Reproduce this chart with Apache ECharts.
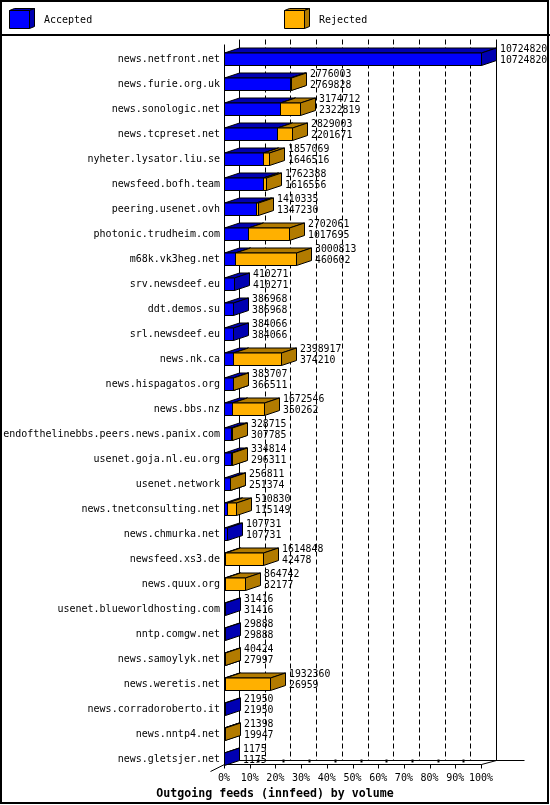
<!DOCTYPE html>
<html>
<head>
<meta charset="utf-8">
<script src="https://cdn.jsdelivr.net/npm/echarts@6/dist/echarts.min.js"></script>
<style>
html,body{margin:0;padding:0;background:#fff;}
#chart{width:550px;height:805px;}
</style>
</head>
<body>
<div id="chart"></div>
<script>
const categories = [
  'news.netfront.net','news.furie.org.uk','news.sonologic.net','news.tcpreset.net',
  'nyheter.lysator.liu.se','newsfeed.bofh.team','peering.usenet.ovh','photonic.trudheim.com',
  'm68k.vk3heg.net','srv.newsdeef.eu','ddt.demos.su','srl.newsdeef.eu','news.nk.ca',
  'news.hispagatos.org','news.bbs.nz','endofthelinebbs.peers.news.panix.com',
  'usenet.goja.nl.eu.org','usenet.network','news.tnetconsulting.net','news.chmurka.net',
  'newsfeed.xs3.de','news.quux.org','usenet.blueworldhosting.com','nntp.comgw.net',
  'news.samoylyk.net','news.weretis.net','news.corradoroberto.it','news.nntp4.net',
  'news.gletsjer.net'
];
// upper number of each row (end of the orange part)
const totals = [
  10724820, 2776003, 3174712, 2829003, 1857069, 1762388, 1410335, 2702061,
  3000813, 410271, 386968, 384066, 2398917, 383707, 1672546, 328715,
  334814, 256811, 510830, 107731, 1614848, 864742, 31416, 29888,
  40424, 1932360, 21950, 21398, 1175
];
// lower number of each row (blue part)
const accepted = [
  10724820, 2769828, 2322819, 2201671, 1646516, 1616556, 1347230, 1017695,
  460602, 410271, 386968, 384066, 374210, 366511, 350262, 307785,
  296311, 251374, 115149, 107731, 42478, 32177, 31416, 29888,
  27997, 26959, 21950, 19947, 1175
];
const tickLabels = ['0%','10%','20%','30%','40%','50%','60%','70%','80%','90%','100%'];
const seriesNames = ['Accepted', 'Rejected'];
const titleText = 'Outgoing feeds (innfeed) by volume';

const maxVal = Math.max.apply(null, totals);
const pct = v => v / maxVal * 100;

const FONT = '"DejaVu Sans Mono", "Liberation Mono", monospace';
const BLUE = '#0000ff', BLUE_D = '#0000b2';
const ORANGE = '#ffb000', ORANGE_D = '#b27b00';
const DX = 15, DY = 5, HH = 6;

function box(x0, x1, c, front, dark) {
  const top = c - HH - 0.5, bot = c + HH;
  const st = { stroke: '#000', lineWidth: 1 };
  return [
    { type: 'polygon', shape: { points: [[x0, top], [x0 + DX, top - DY], [x1 + DX, top - DY], [x1, top]] },
      style: Object.assign({ fill: dark }, st) },
    { type: 'rect', shape: { x: x0, y: top, width: Math.max(0, x1 - x0), height: bot - top },
      style: Object.assign({ fill: front }, st) },
    { type: 'polygon', shape: { points: [[x1, top], [x1 + DX, top - DY], [x1 + DX, bot - DY], [x1, bot]] },
      style: Object.assign({ fill: dark }, st) }
  ];
}
const px = v => Math.round(v) + 0.5;

const accData = accepted.map((v, i) => [0, pct(v), i]);
const rejData = accepted.map((v, i) => [pct(v), pct(totals[i]), i]);
const labelData = totals.map((v, i) => [pct(v), i, v, accepted[i]]);

function renderBox(front, dark) {
  return function (params, api) {
    const s = api.value(0), e = api.value(1), i = api.value(2);
    if (e - s <= 0) return null;
    const p0 = api.coord([s, i]), p1 = api.coord([e, i]);
    return { type: 'group', children: box(px(p0[0]), px(p1[0]), px(p0[1]), front, dark) };
  };
}

function renderFrame(params, api) {
  const n = categories.length;
  const a = api.coord([0, 0]), b = api.coord([100, 0]), l = api.coord([0, n - 1]);
  const x0 = px(a[0]), x1 = px(b[0]);
  const yTop = px(a[1] - 20), yBack = px(l[1] + 1), yFront = px(l[1] + 5);
  const ln = (xa, ya, xb, yb, dash) => ({
    type: 'line', shape: { x1: xa, y1: ya, x2: xb, y2: yb },
    style: { stroke: '#000', lineWidth: 1, lineDash: dash || null }
  });
  const ch = [];
  ch.push(ln(x0, yTop + 5, x0, yFront));
  ch.push(ln(x0 + DX, yTop, x0 + DX, yBack));
  ch.push(ln(x1 + DX, yTop, x1 + DX, yBack));
  for (let k = 1; k <= 9; k++) {
    const xk = px(api.coord([k * 10, 0])[0]) + DX;
    ch.push(ln(xk, yTop, xk, yBack, [5, 3]));
  }
  ch.push(ln(x0, yFront, x1, yFront));
  ch.push(ln(x0 + DX, yBack, x1 + DX + 28, yBack));
  ch.push(ln(x0 - 14, yFront + 7, x0, yFront));
  ch.push(ln(x1, yFront, x1 + DX, yBack));
  for (let k = 0; k <= 10; k++) {
    const xk = px(api.coord([k * 10, 0])[0]);
    ch.push(ln(xk, yFront, xk, yFront + 4));
    if (k > 0 && k < 10) {
      ch.push({ type: 'rect', shape: { x: xk + 7, y: yBack - 1, width: 2, height: 3 }, style: { fill: '#000' } });
    }
  }
  return { type: 'group', children: ch };
}

function renderLabels(params, api) {
  const e = api.value(0), i = api.value(1);
  const p = api.coord([e, i]);
  const x = Math.round(p[0]) + DX + 4, c = Math.round(p[1]);
  const t1 = String(totals[i]), t2 = String(accepted[i]);
  const f = '9.8px ' + FONT;
  return { type: 'group', children: [
    { type: 'text', style: { text: t1, x: x, y: c - 9.5, fill: '#000', font: f, verticalAlign: 'middle', align: 'left' } },
    { type: 'text', style: { text: t2, x: x, y: c + 1.5, fill: '#000', font: f, verticalAlign: 'middle', align: 'left' } }
  ]};
}

function legendItem(x, name, front, dark) {
  const x0 = x + 0.5, x1 = x + 20.5, top = 10.5, bot = 28.5;
  const st = { stroke: '#000', lineWidth: 1 };
  return [
    { type: 'polygon', shape: { points: [[x0, top], [x0 + 5, top - 2], [x1 + 5, top - 2], [x1, top]] }, style: Object.assign({ fill: dark }, st) },
    { type: 'rect', shape: { x: x0, y: top, width: 20, height: bot - top }, style: Object.assign({ fill: front }, st) },
    { type: 'polygon', shape: { points: [[x1, top], [x1 + 5, top - 2], [x1 + 5, bot - 2], [x1, bot]] }, style: Object.assign({ fill: dark }, st) },
    { type: 'text', style: { text: name, x: x + 35, y: 20, fill: '#000', font: '10px ' + FONT, verticalAlign: 'middle' } }
  ];
}

const chart = echarts.init(document.getElementById('chart'), null, { renderer: 'canvas' });
chart.setOption({
  backgroundColor: '#fff',
  animation: false,
  title: {
    text: titleText, left: 'center', top: 783,
    textStyle: { fontFamily: FONT, fontSize: 11.6, fontWeight: 'bold', color: '#000' }
  },
  grid: { left: 224, right: 69, top: 46.5, height: 725, containLabel: false },
  xAxis: {
    type: 'value', min: 0, max: 100, interval: 10,
    axisLine: { show: false }, axisTick: { show: false }, splitLine: { show: false },
    axisLabel: { margin: 2, color: '#000', fontFamily: FONT, fontSize: 10,
      formatter: v => tickLabels[Math.round(v / 10)] }
  },
  yAxis: {
    type: 'category', data: categories, inverse: true,
    axisLine: { show: false }, axisTick: { show: false },
    axisLabel: { interval: 0, margin: 4, color: '#000', fontFamily: FONT, fontSize: 10 }
  },
  graphic: [
    { type: 'rect', shape: { x: 1, y: 1, width: 547, height: 802 }, style: { fill: null, stroke: '#000', lineWidth: 2 }, z: 100 },
    { type: 'line', shape: { x1: 0, y1: 35, x2: 550, y2: 35 }, style: { stroke: '#000', lineWidth: 2 } },
    { type: 'group', children: legendItem(9, seriesNames[0], BLUE, BLUE_D) },
    { type: 'group', children: legendItem(284, seriesNames[1], ORANGE, ORANGE_D) }
  ],
  series: [
    { type: 'custom', name: 'frame', data: [[0, 0]], encode: { x: 0, y: 1 }, renderItem: renderFrame, z: 1, silent: true, clip: false },
    { type: 'custom', name: seriesNames[0], data: accData, encode: { x: [0, 1], y: 2 }, renderItem: renderBox(BLUE, BLUE_D), z: 2, clip: false },
    { type: 'custom', name: seriesNames[1], data: rejData, encode: { x: [0, 1], y: 2 }, renderItem: renderBox(ORANGE, ORANGE_D), z: 3, clip: false },
    { type: 'custom', name: 'labels', data: labelData, encode: { x: 0, y: 1 }, renderItem: renderLabels, z: 4, silent: true, clip: false }
  ]
});
</script>
</body>
</html>
